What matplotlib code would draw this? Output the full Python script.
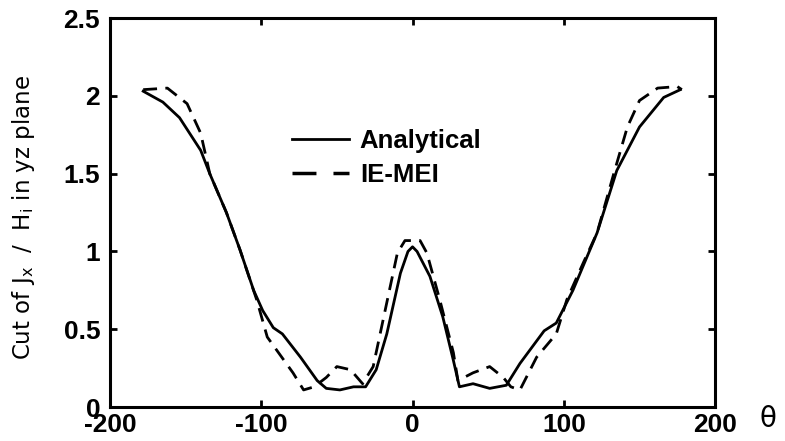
import numpy as np
import matplotlib
matplotlib.use("Agg")
from matplotlib import pyplot as plt
from matplotlib.lines import Line2D

plt.rcParams['font.family'] = ['Liberation Sans', 'DejaVu Sans']
plt.rcParams['axes.unicode_minus'] = False

# Analytical curve
theta_an = [-178, -165, -154, -140, -134, -123, -114, -105, -99, -92, -86, -74,
            -63, -57, -48, -39, -31, -24, -17, -8, -3, 0, 3, 11.5, 20, 27, 31, 40, 51,
            62, 71, 87, 95, 106, 122, 135, 150, 166, 177]
val_an = [2.03, 1.96, 1.86, 1.65, 1.50, 1.25, 1.01, 0.75, 0.62, 0.51, 0.47, 0.32,
          0.17, 0.12, 0.11, 0.13, 0.13, 0.24, 0.47, 0.86, 1.00, 1.03, 1.00, 0.84, 0.58,
          0.30, 0.13, 0.15, 0.12, 0.14, 0.28, 0.49, 0.54, 0.75, 1.12, 1.52, 1.80,
          1.99, 2.04]

# IE-MEI curve
theta_ie = [-178, -162, -149, -140, -134, -123, -114, -103, -96, -79, -72, -65,
            -57, -50, -41, -33, -26, -19, -10, -5, 5, 9.5, 18, 27, 30, 40, 51,
            60, 65, 71, 82, 95, 102, 113, 122, 133, 142, 150, 162, 175, 178]
val_ie = [2.04, 2.05, 1.95, 1.76, 1.50, 1.25, 1.01, 0.69, 0.45, 0.22, 0.11, 0.13,
          0.19, 0.26, 0.24, 0.15, 0.26, 0.58, 0.99, 1.07, 1.07, 0.99, 0.69, 0.35,
          0.17, 0.22, 0.26, 0.19, 0.13, 0.11, 0.32, 0.47, 0.69, 0.93, 1.12, 1.50,
          1.80, 1.97, 2.05, 2.06, 2.04]

fig = plt.figure(figsize=(7.85, 4.41), dpi=100)
ax = fig.add_axes([0.140, 0.077, 0.771, 0.882])

ax.plot(theta_an, val_an, color='black', lw=2.0)
ax.plot(theta_ie, val_ie, color='black', lw=2.0, ls=(0, (5, 3)))

ax.set_xlim(-200, 200)
ax.set_ylim(0, 2.5)
ax.set_xticks([-200, -100, 0, 100, 200])
ax.set_yticks([0, 0.5, 1, 1.5, 2, 2.5])
ax.set_yticklabels(['0', '0.5', '1', '1.5', '2', '2.5'])
ax.tick_params(direction='in', length=5, width=2, top=True, right=True,
               labelsize=19)
ax.tick_params(axis='x', pad=4)
ax.tick_params(axis='y', pad=7)
for lab in ax.get_xticklabels() + ax.get_yticklabels():
    lab.set_fontweight('bold')
for s in ax.spines.values():
    s.set_linewidth(2.2)

ax.set_ylabel('Cut of J$_\\mathregular{x}$  /  H$_\\mathregular{i}$ in yz plane',
              fontsize=16.5, family='DejaVu Sans')
ax.yaxis.set_label_coords(-0.12, 0.486)
fig.text(768 / 785, 1 - 419 / 441, '\u03b8', fontsize=20, family='DejaVu Sans',
         ha='center', va='center')

handles = [Line2D([], [], color='black', lw=2.0),
           Line2D([], [], color='black', lw=2.5, ls=(0, (6.9, 4.9)))]
ax.legend(handles, ['Analytical', 'IE-MEI'], loc='upper left',
          bbox_to_anchor=(292 / 785, 1 - 129 / 441), bbox_transform=fig.transFigure,
          frameon=False, prop={'family': 'Liberation Sans', 'size': 18.5,
                               'weight': 'bold'},
          handlelength=2.2, handletextpad=0.44, labelspacing=0.4, borderpad=0,
          borderaxespad=0)

fig.savefig('out.png', dpi=100)
